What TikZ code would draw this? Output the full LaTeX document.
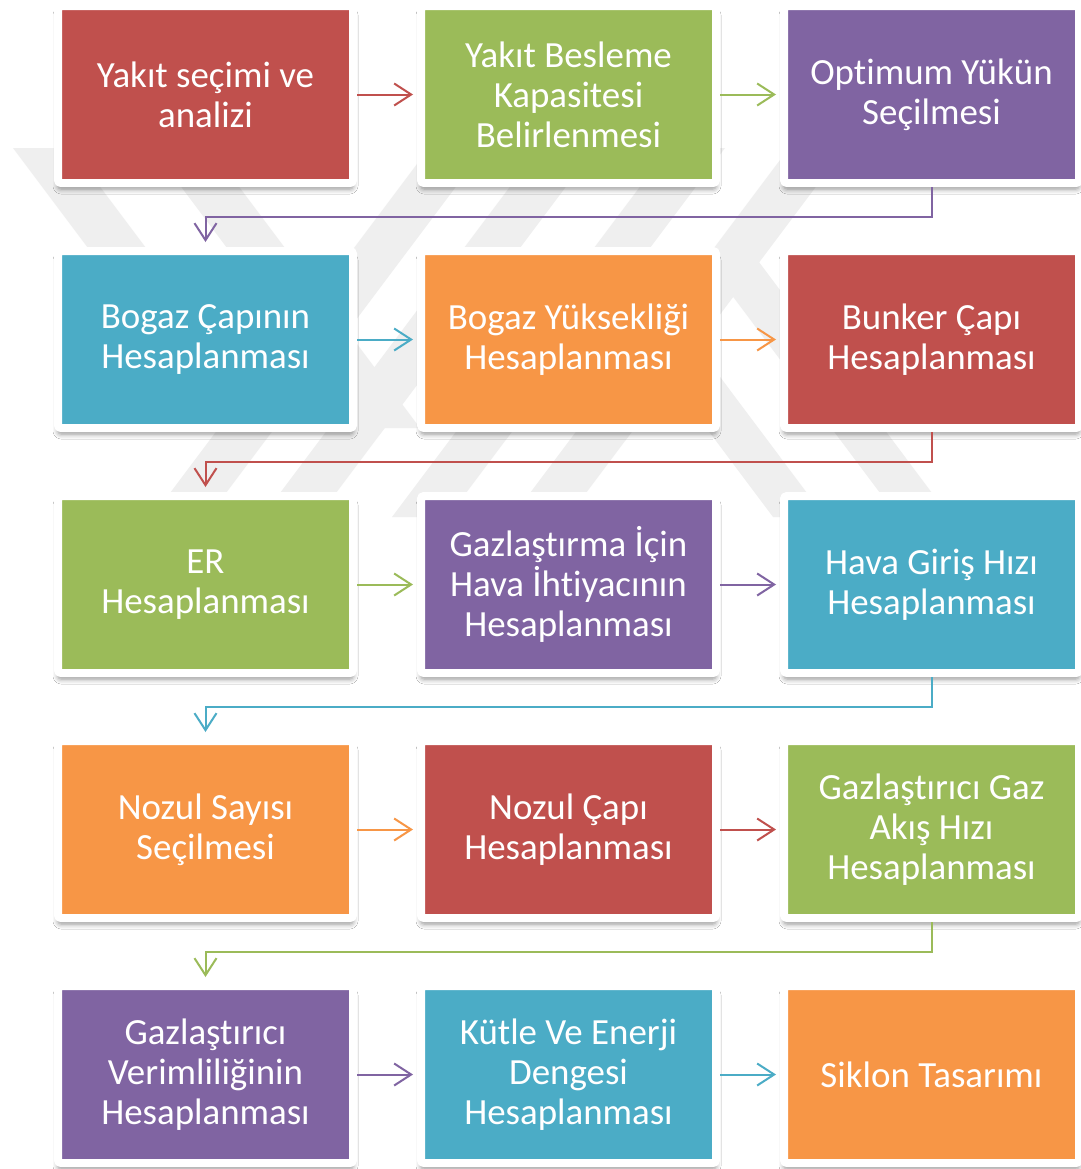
\documentclass[tikz,border=0pt]{standalone}
\usepackage{fontspec}
\setmainfont{Carlito}[Ligatures={NoCommon,NoContextual,NoRare}]
\usetikzlibrary{arrows.meta}
\usetikzlibrary{shadows.blur}
\definecolor{cred}{HTML}{C0504D}
\definecolor{cgreen}{HTML}{9BBB59}
\definecolor{cpurple}{HTML}{8064A2}
\definecolor{cblue}{HTML}{4BACC6}
\definecolor{corange}{HTML}{F79646}
\definecolor{wmark}{HTML}{EFEFEF}
\tikzstyle{stage}=[draw=white, line width=0.08cm, outer sep=0.04cm, inner sep=0pt,
  minimum width=2.95cm, minimum height=1.77cm, rounded corners=0.03cm,
  align=center, text=white, font=\fontsize{10.5}{11.4}\selectfont,
  blur shadow={shadow xshift=0cm, shadow yshift=-0.06cm, shadow blur radius=0.05cm, shadow opacity=45}]
\tikzstyle{flow}=[line width=0.02cm, -{Straight Barb[length=0.17cm, width=0.22cm]}, shorten >=0.04cm]
\tikzstyle{turn}=[flow, shorten >=0.05cm]
\tikzstyle{band}=[fill=wmark]

\begin{document}
\begin{tikzpicture}
    \useasboundingbox (0,0) rectangle (10.81,-11.69);
    \fill[white] (0,0) rectangle (10.81,-11.69);
    % faint background logo
    \begin{scope}
        \clip (0,-1.48) rectangle (10.81,-5.17);
        \foreach \s in {4.29, 5.39, 6.69, 7.89}
            \fill[band] (\s,-1.48) -- ++(0.56,0) -- ++(-2.77,-3.69) -- ++(-0.56,0) -- cycle;
        \foreach \s in {0.13, 1.52}
            \fill[band] (\s,-1.48) -- ++(0.58,0) -- ++(2.1,-2.8) -- ++(-0.58,0) -- cycle;
        \foreach \s in {5.73, 6.98}
            \fill[band] (\s,-2.50) -- ++(0.52,0) -- ++(2.0,-2.67) -- ++(-0.52,0) -- cycle;
    \end{scope}
    \node[stage, fill=cred]    (S1)  at (2.055, -0.945)  {Yakıt seçimi ve\\analizi};
    \node[stage, fill=cgreen]  (S2)  at (5.685, -0.945)  {Yakıt Besleme\\Kapasitesi\\Belirlenmesi};
    \node[stage, fill=cpurple] (S3)  at (9.315, -0.945)  {Optimum Yükün\\Seçilmesi};
    \node[stage, fill=cblue]   (S4)  at (2.055, -3.395)  {Bogaz Çapının\\Hesaplanması};
    \node[stage, fill=corange] (S5)  at (5.685, -3.395)  {Bogaz Yüksekliği\\Hesaplanması};
    \node[stage, fill=cred]    (S6)  at (9.315, -3.395)  {Bunker Çapı\\Hesaplanması};
    \node[stage, fill=cgreen]  (S7)  at (2.055, -5.845)  {ER\\Hesaplanması};
    \node[stage, fill=cpurple] (S8)  at (5.685, -5.845)  {Gazlaştırma İçin\\Hava İhtiyacının\\Hesaplanması};
    \node[stage, fill=cblue]   (S9)  at (9.315, -5.845)  {Hava Giriş Hızı\\Hesaplanması};
    \node[stage, fill=corange] (S10) at (2.055, -8.295)  {Nozul Sayısı\\Seçilmesi};
    \node[stage, fill=cred]    (S11) at (5.685, -8.295)  {Nozul Çapı\\Hesaplanması};
    \node[stage, fill=cgreen]  (S12) at (9.315, -8.295)  {Gazlaştırıcı Gaz\\Akış Hızı\\Hesaplanması};
    \node[stage, fill=cpurple] (S13) at (2.055, -10.745) {Gazlaştırıcı\\Verimliliğinin\\Hesaplanması};
    \node[stage, fill=cblue]   (S14) at (5.685, -10.745) {Kütle Ve Enerji\\Dengesi\\Hesaplanması};
    \node[stage, fill=corange] (S15) at (9.315, -10.745) {Siklon Tasarımı};
    \draw[flow, cred]    (S1) -- (S2);
    \draw[flow, cgreen]  (S2) -- (S3);
    \draw[turn, cpurple] (S3.south) -- +(0,-0.30) -| (S4.north);
    \draw[flow, cblue]   (S4) -- (S5);
    \draw[flow, corange] (S5) -- (S6);
    \draw[turn, cred]    (S6.south) -- +(0,-0.30) -| (S7.north);
    \draw[flow, cgreen]  (S7) -- (S8);
    \draw[flow, cpurple] (S8) -- (S9);
    \draw[turn, cblue]   (S9.south) -- +(0,-0.30) -| (S10.north);
    \draw[flow, corange] (S10) -- (S11);
    \draw[flow, cred]    (S11) -- (S12);
    \draw[turn, cgreen]  (S12.south) -- +(0,-0.30) -| (S13.north);
    \draw[flow, cpurple] (S13) -- (S14);
    \draw[flow, cblue]   (S14) -- (S15);
\end{tikzpicture}
\end{document}
